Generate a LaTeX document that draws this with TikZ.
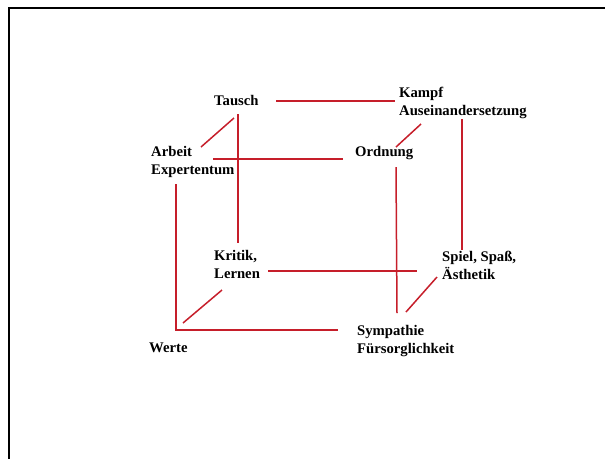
\documentclass[tikz,border=0pt]{standalone}
\usepackage{fontspec}
\setmainfont{Liberation Serif}
\usetikzlibrary{calc}
\definecolor{linkred}{RGB}{198,30,42}
\begin{document}
\begin{tikzpicture}[x=1pt,y=-1pt,
  term/.style={anchor=base west,inner sep=0pt,align=left,
    font=\fontsize{14.7}{18}\selectfont\bfseries},
  link/.style={draw=linkred,line width=1.5pt},
  frame/.style={draw=black,line width=2.6pt}]
\useasboundingbox (0,0) rectangle (605,459);
% frame edges
\draw[frame] (605,8) -- (9,8) -- (9,459);
% terms (a multi-line term sits on the baseline of its last line)
\node[term] (tausch) at (214,105) {Tausch};
\node[term] (kampf) at (399,115) {Kampf\\Auseinandersetzung};
\node[term] (arbeit) at (151,174) {Arbeit\\Expertentum};
\node[term] (ordnung) at (355,156) {Ordnung};
\node[term] (kritik) at (214,278) {Kritik,\\Lernen};
\node[term] (spiel) at (442,279) {Spiel, Spaß,\\Ästhetik};
\node[term] (werte) at (149,352) {Werte};
\node[term] (sympathie) at (357,353) {Sympathie\\Fürsorglichkeit};
% connections
\draw[link] ($(tausch.base west)+(62,-4)$) -- ($(kampf.base west)+(-4,-14)$);
\draw[link] ($(tausch.base west)+(20,13)$) -- ($(arbeit.base west)+(50,-27)$);
\draw[link] ($(tausch.base west)+(24,9)$) -- ($(kritik.base west)+(24,-35)$);
\draw[link] ($(arbeit.base west)+(62,-15)$) -- ($(ordnung.base west)+(-12,3)$);
\draw[link] ($(kampf.base west)+(22,9)$) -- ($(ordnung.base west)+(41,-9)$);
\draw[link] ($(kampf.base west)+(63,4)$) -- ($(spiel.base west)+(20,-29)$);
\draw[link] ($(ordnung.base west)+(41,11)$) -- ($(sympathie.base west)+(40,-40)$);
\draw[link] ($(arbeit.base west)+(25,10)$) |- ($(sympathie.base west)+(-19,-23)$);
\draw[link] ($(kritik.base west)+(8,12)$) -- ($(werte.base west)+(34,-29)$);
\draw[link] ($(kritik.base west)+(54,-7)$) -- ($(spiel.base west)+(-25,-8)$);
\draw[link] ($(spiel.base west)+(-5,-2)$) -- ($(sympathie.base west)+(49,-41)$);
\end{tikzpicture}
\end{document}
